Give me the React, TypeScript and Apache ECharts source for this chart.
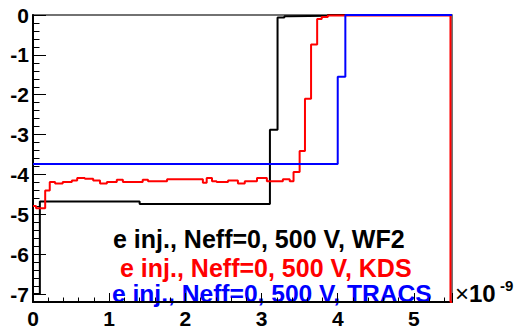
import React, { useEffect, useRef } from "react";
import * as echarts from "echarts";

// Time axis in units of 1e-9 s
const X_MIN = 0;
const X_MAX = 5.5;
const Y_MIN = -7.2;
const Y_MAX = 0;

// Step histograms: left bin edges and bin contents
const wf2Edges = [0, 0.09, 1.4, 3.11, 3.21, 3.3, 3.37, 3.87];
const wf2Values = [-7.0, -4.68, -4.74, -2.88, -0.06, -0.03, -0.02, 0];

const kdsEdges = [
  0, 0.04, 0.16, 0.22, 0.29, 0.39, 0.51, 0.58, 0.68, 0.79,
  0.88, 0.97, 1.1, 1.18, 1.44, 1.51, 1.76, 2.23, 2.28, 2.35,
  2.41, 2.56, 2.69, 2.78, 2.94, 3.07, 3.28, 3.37, 3.42, 3.5,
  3.57, 3.65, 3.73, 3.79, 3.87, 5.48,
];
const kdsValues = [
  -4.79, -4.85, -4.4, -4.19, -4.23, -4.19, -4.15, -4.09, -4.11, -4.15,
  -4.23, -4.19, -4.13, -4.19, -4.13, -4.17, -4.12, -4.21, -4.09, -4.17,
  -4.19, -4.15, -4.23, -4.17, -4.09, -4.17, -4.12, -4.17, -3.94, -3.41,
  -2.1, -0.74, -0.1, -0.05, -0.01, -7.2,
];

const tracsEdges = [0, 4.0, 4.1];
const tracsValues = [-3.74, -1.55, 0];

const legendLabels = [
  "e inj., Neff=0, 500 V, WF2",
  "e inj., Neff=0, 500 V, KDS",
  "e inj., Neff=0, 500 V, TRACS",
];
const seriesColors = ["#000000", "#ff0000", "#0000ff"];

const FONT = "'Liberation Sans', Arial, Helvetica, sans-serif";

function toSteps(edges: number[], values: number[]): number[][] {
  const pts = edges.map((e, i) => [e, values[i]]);
  pts.push([X_MAX, values[values.length - 1]]);
  return pts;
}

export default function App() {
  const ref = useRef<HTMLDivElement>(null);

  useEffect(() => {
    if (!ref.current) return;
    const chart = echarts.init(ref.current, null, { renderer: "svg" });

    const lineSeries = (name: string, data: number[][], color: string) => ({
      name,
      type: "line",
      step: "end",
      data,
      symbol: "none",
      lineStyle: { color, width: 2 },
      clip: true,
    });

    const intLabel = (v: number) =>
      Math.abs(v - Math.round(v)) < 1e-6 ? String(Math.round(v)) : "";

    chart.setOption({
      animation: false,
      backgroundColor: "#ffffff",
      grid: {
        left: 33,
        right: 62,
        top: 15,
        bottom: 22,
        show: true,
        borderColor: "#444444",
        borderWidth: 1.5,
        backgroundColor: "transparent",
      },
      xAxis: {
        type: "value",
        min: X_MIN,
        max: X_MAX,
        interval: 1,
        axisLine: { show: true, onZero: false, lineStyle: { color: "#000", width: 2 } },
        axisTick: { show: true, inside: true, length: 9, lineStyle: { color: "#000", width: 1 } },
        minorTick: { show: true, splitNumber: 5, length: 4.5, lineStyle: { color: "#000", width: 1 } },
        splitLine: { show: false },
        axisLabel: {
          formatter: intLabel,
          color: "#000",
          fontFamily: FONT,
          fontWeight: "bold",
          fontSize: 21,
          margin: 6,
          showMaxLabel: true,
        },
      },
      yAxis: {
        type: "value",
        min: Y_MIN,
        max: Y_MAX,
        splitNumber: 7,
        axisLine: { show: true, onZero: false, lineStyle: { color: "#000", width: 2 } },
        axisTick: { show: true, inside: true, length: 13, lineStyle: { color: "#000", width: 1 } },
        minorTick: { show: true, splitNumber: 5, length: 6.5, lineStyle: { color: "#000", width: 1 } },
        splitLine: { show: false },
        axisLabel: {
          formatter: intLabel,
          color: "#000",
          fontFamily: FONT,
          fontWeight: "bold",
          fontSize: 21,
          margin: 4,
        },
      },
      series: [
        lineSeries(legendLabels[0], toSteps(wf2Edges, wf2Values), seriesColors[0]),
        lineSeries(legendLabels[1], toSteps(kdsEdges, kdsValues), seriesColors[1]),
        lineSeries(legendLabels[2], toSteps(tracsEdges, tracsValues), seriesColors[2]),
      ],
      graphic: [
        {
          type: "text",
          left: 113,
          top: 226,
          style: { text: legendLabels[0], fill: seriesColors[0], font: `bold 25px ${FONT}` },
        },
        {
          type: "text",
          left: 120,
          top: 255,
          style: { text: legendLabels[1], fill: seriesColors[1], font: `bold 25px ${FONT}` },
        },
        {
          type: "text",
          left: 112,
          top: 281,
          style: { text: legendLabels[2], fill: seriesColors[2], font: `bold 24.6px ${FONT}` },
        },
        {
          type: "text",
          left: 455,
          top: 281,
          style: {
            text: "{m|×}{b|10}",
            rich: {
              m: { font: `normal 24px ${FONT}`, fill: "#000" },
              b: { font: `bold 24px ${FONT}`, fill: "#000" },
            },
          },
        },
        {
          type: "text",
          left: 500,
          top: 278,
          style: { text: "-9", fill: "#000", font: `bold 15px ${FONT}` },
        },
      ],
    });

    return () => chart.dispose();
  }, []);

  return (
    <div
      ref={ref}
      style={{ position: "fixed", left: 0, top: 0, width: 514, height: 329, background: "#fff" }}
    />
  );
}
